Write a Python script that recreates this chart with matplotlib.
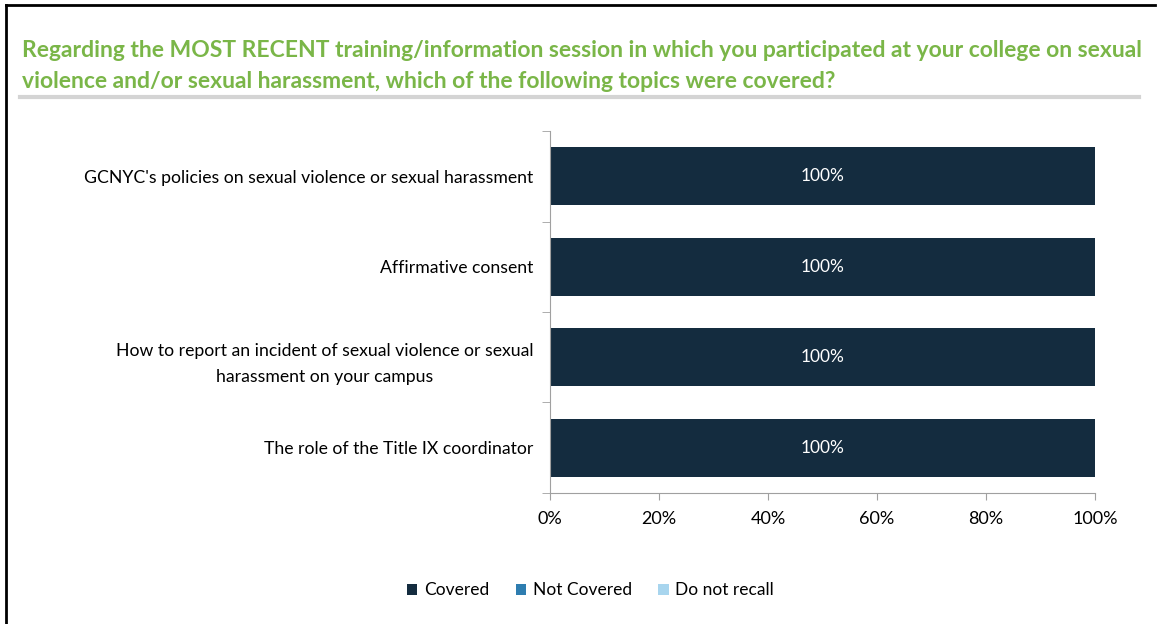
# -*- coding: utf-8 -*-

import matplotlib.pyplot as plt
from matplotlib.lines import Line2D
from matplotlib.ticker import PercentFormatter

topics = [
    "GCNYC's policies on sexual violence or sexual harassment",
    "Affirmative consent",
    "How to report an incident of sexual violence or sexual\nharassment on your campus",
    "The role of the Title IX coordinator",
]
covered = [100, 100, 100, 100]
not_covered = [0, 0, 0, 0]
do_not_recall = [0, 0, 0, 0]

series_names = ["Covered", "Not Covered", "Do not recall"]
series_colors = ["#142c3f", "#2e7db0", "#a8d5ee"]

title = ("Regarding the MOST RECENT training/information session in which you participated at your college on sexual\n"
         "violence and/or sexual harassment, which of the following topics were covered?")

plt.rcParams['font.family'] = ['Lato', 'DejaVu Sans']

fig = plt.figure(figsize=(11.58, 6.24), dpi=100)
ax = fig.add_axes([0.475, 0.21, 0.4706, 0.58])

ypos = list(range(len(topics)))
left = [0] * len(topics)
for name, vals, col in zip(series_names, [covered, not_covered, do_not_recall], series_colors):
    bars = ax.barh(ypos, vals, left=left, height=0.645, color=col, label=name)
    if name == "Covered":
        ax.bar_label(bars, labels=[f"{v}%" for v in vals], label_type='center',
                     color='white', fontsize=12.5)
    left = [a + b for a, b in zip(left, vals)]

ax.set_xlim(0, 100)
ax.set_ylim(len(topics) - 0.5, -0.5)
ax.xaxis.set_major_formatter(PercentFormatter(decimals=0))
ax.set_xticks([0, 20, 40, 60, 80, 100])
ax.set_yticks(ypos)
ax.set_yticklabels(topics, fontsize=12.7, ha='right', multialignment='center',
                   linespacing=1.8)
ax.tick_params(axis='y', length=0, pad=12)
ax.set_yticks([i - 0.5 for i in range(len(topics) + 1)], minor=True)
ax.tick_params(axis='y', which='minor', length=6, color='#a0a0a0')
ax.tick_params(axis='x', length=5, color='#a0a0a0', labelsize=13, pad=8)

for side in ['top', 'right']:
    ax.spines[side].set_visible(False)
for side in ['left', 'bottom']:
    ax.spines[side].set_color('#a0a0a0')

fig.text(0.019, 0.894, title, color='#7ab648', fontsize=16.5, fontweight='bold',
         va='center', ha='left', linespacing=1.55)
fig.add_artist(Line2D([0.017, 0.984], [0.844, 0.844], color='#d4d4d4', lw=3))
fig.add_artist(Line2D([0.005, 0.005], [0, 0.992], color='black', lw=2))
fig.add_artist(Line2D([0.005, 0.997], [0.992, 0.992], color='black', lw=2))

fig.legend(loc='center', bbox_to_anchor=(0.51, 0.054), ncol=3, frameon=False,
           fontsize=12.5, handlelength=0.6, handleheight=0.6, columnspacing=1.5,
           handletextpad=0.4)

fig.savefig('out.png', dpi=100)
